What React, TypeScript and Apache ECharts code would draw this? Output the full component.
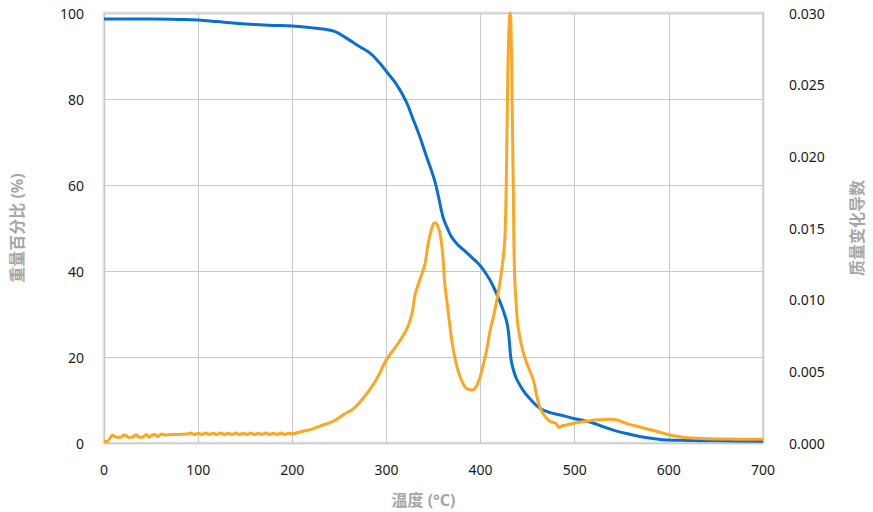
import React, { useEffect, useRef } from "react";
import * as echarts from "echarts";

// Temperature (°C) / weight percent (%)
const tgTemp = [0, 20, 50, 80, 100, 120, 140, 160, 180, 200, 220, 235, 245, 258, 270, 283, 293, 300, 311, 321, 328, 335, 342, 352, 360, 365, 369, 375, 382, 390, 399, 406, 412, 418, 424, 428, 430, 432, 434, 438, 445, 452, 463, 475, 487, 499, 510, 520, 530, 541, 555, 569, 585, 599, 620, 650, 700];
const tgWeight = [98.6, 98.6, 98.6, 98.5, 98.4, 98.0, 97.6, 97.3, 97.1, 97.0, 96.6, 96.2, 95.7, 94.1, 92.4, 90.6, 88.3, 86.4, 83.3, 79.4, 75.5, 71.5, 67.0, 60.4, 52.6, 49.8, 48.0, 46.3, 44.9, 43.3, 41.4, 39.3, 37.1, 34.2, 30.9, 28.0, 25.0, 20.0, 17.7, 15.0, 12.3, 10.4, 8.1, 7.0, 6.4, 5.7, 5.2, 4.6, 3.8, 3.0, 2.2, 1.5, 1.0, 0.7, 0.6, 0.5, 0.4];

// Temperature (°C) / mass-change derivative
const dtgTemp = [0, 3, 6, 9, 13, 17, 22, 26, 30, 34, 38, 42, 45, 48, 51, 54, 57, 61, 66, 72, 80, 88, 92, 96, 100, 104, 108, 112, 116, 120, 124, 128, 132, 136, 140, 144, 148, 152, 156, 160, 164, 168, 172, 176, 180, 184, 188, 192, 196, 200, 210, 220, 230, 243, 255, 265, 275, 289, 300, 314, 322, 327, 329, 331, 336, 341, 344, 347, 350, 352, 354, 357, 360, 362, 365, 367.5, 371, 375, 379, 383.5, 387, 391, 395, 399, 403, 406.5, 410, 415, 420.6, 424.2, 426, 427.5, 429, 430.5, 431.5, 432.5, 433.5, 434.8, 436, 438, 440, 445, 450, 456, 460, 463, 468, 474, 479, 481, 483, 487, 491.5, 500, 516, 530, 537.5, 545, 555, 570, 585, 598, 610, 619, 640, 670, 700];
const dtgValue = [0.0001, 0.0001, 0.0003, 0.00055, 0.0004, 0.0004, 0.00056, 0.0004, 0.0004, 0.00058, 0.0004, 0.00045, 0.0006, 0.0004, 0.00055, 0.0006, 0.00045, 0.00062, 0.00055, 0.0006, 0.0006, 0.00062, 0.0007, 0.0006, 0.00068, 0.0006, 0.0007, 0.0006, 0.00068, 0.0006, 0.0007, 0.0006, 0.00068, 0.0006, 0.0007, 0.0006, 0.00068, 0.0006, 0.0007, 0.0006, 0.00068, 0.0006, 0.0007, 0.0006, 0.00068, 0.0006, 0.0007, 0.0006, 0.00068, 0.00065, 0.0008, 0.00095, 0.0012, 0.0015, 0.002, 0.0024, 0.0031, 0.0044, 0.0058, 0.0071, 0.008, 0.009, 0.0098, 0.0105, 0.0115, 0.0125, 0.0138, 0.0147, 0.0153, 0.01537, 0.0152, 0.0146, 0.013, 0.0111, 0.0095, 0.0081, 0.0065, 0.0053, 0.0045, 0.0039, 0.00375, 0.0037, 0.0039, 0.0045, 0.0055, 0.0065, 0.0078, 0.0092, 0.0112, 0.013, 0.0145, 0.019, 0.026, 0.0295, 0.03, 0.0285, 0.024, 0.0175, 0.012, 0.0095, 0.008, 0.0064, 0.0054, 0.0044, 0.0032, 0.0025, 0.0019, 0.0015, 0.0014, 0.0013, 0.0011, 0.0012, 0.00126, 0.0014, 0.00156, 0.00163, 0.00165, 0.0016, 0.00137, 0.0011, 0.00085, 0.00061, 0.00045, 0.00037, 0.0003, 0.00027, 0.00026];

const xName = "温度 (°C)";
const yLeftName = "重量百分比 (%)";
const yRightName = "质量变化导数";

export default function App() {
  const ref = useRef<HTMLDivElement>(null);
  useEffect(() => {
    if (!ref.current) return;
    const chart = echarts.init(ref.current, null, { renderer: "svg" });
    const font = "'Noto Sans', 'Noto Sans CJK SC', sans-serif";
    const nameStyle = {
      color: "#a6a6a6",
      fontWeight: "bold" as const,
      fontSize: 16,
      fontFamily: font,
    };
    chart.setOption({
      animation: false,
      backgroundColor: "#ffffff",
      grid: {
        left: 104,
        right: 110,
        top: 13,
        bottom: 69,
        containLabel: false,
        outerBoundsMode: "none",
        show: true,
        borderColor: "#e2e2e2",
        borderWidth: 3,
        backgroundColor: "transparent",
      },
      xAxis: {
        type: "value",
        min: 0,
        max: 700,
        interval: 100,
        name: xName,
        nameLocation: "middle",
        nameGap: 49,
        nameTextStyle: { ...nameStyle, padding: [0, 20, 0, 0] },
        axisLine: { show: false },
        axisTick: { show: false },
        axisLabel: { color: "#1a1a1a", fontSize: 14, margin: 19, fontFamily: font },
        splitLine: { show: true, lineStyle: { color: "#c8c8cc", width: 1 } },
      },
      yAxis: [
        {
          type: "value",
          min: 0,
          max: 100,
          interval: 20,
          name: yLeftName,
          nameLocation: "middle",
          nameGap: 79,
          nameRotate: 90,
          nameTextStyle: nameStyle,
          axisLine: { show: false },
          axisTick: { show: false },
          axisLabel: { color: "#1a1a1a", fontSize: 14, margin: 20, fontFamily: font },
          splitLine: { show: true, lineStyle: { color: "#c8c8cc", width: 1 } },
        },
        {
          type: "value",
          min: 0,
          max: 0.03,
          interval: 0.005,
          position: "right",
          name: yRightName,
          nameLocation: "middle",
          nameGap: 86,
          nameRotate: 90,
          nameTextStyle: nameStyle,
          axisLine: { show: false },
          axisTick: { show: false },
          axisLabel: {
            color: "#1a1a1a",
            fontSize: 14,
            margin: 26,
            fontFamily: font,
            formatter: (v: number) => v.toFixed(3),
          },
          splitLine: { show: false },
        },
      ],
      series: [
        {
          type: "line",
          yAxisIndex: 0,
          data: tgTemp.map((t, i) => [t, tgWeight[i]]),
          showSymbol: false,
          symbol: "none",
          smooth: 0.4,
          lineStyle: { color: "#0b6fd0", width: 3 },
          itemStyle: { color: "#0b6fd0" },
          z: 3,
        },
        {
          type: "line",
          yAxisIndex: 1,
          data: dtgTemp.map((t, i) => [t, dtgValue[i]]),
          showSymbol: false,
          symbol: "none",
          smooth: 0.4,
          lineStyle: { color: "#fda620", width: 3 },
          itemStyle: { color: "#fda620" },
          z: 4,
        },
      ],
    });
    return () => chart.dispose();
  }, []);
  return (
    <div
      ref={ref}
      style={{ position: "fixed", left: 0, top: 0, width: 873, height: 512 }}
    />
  );
}
